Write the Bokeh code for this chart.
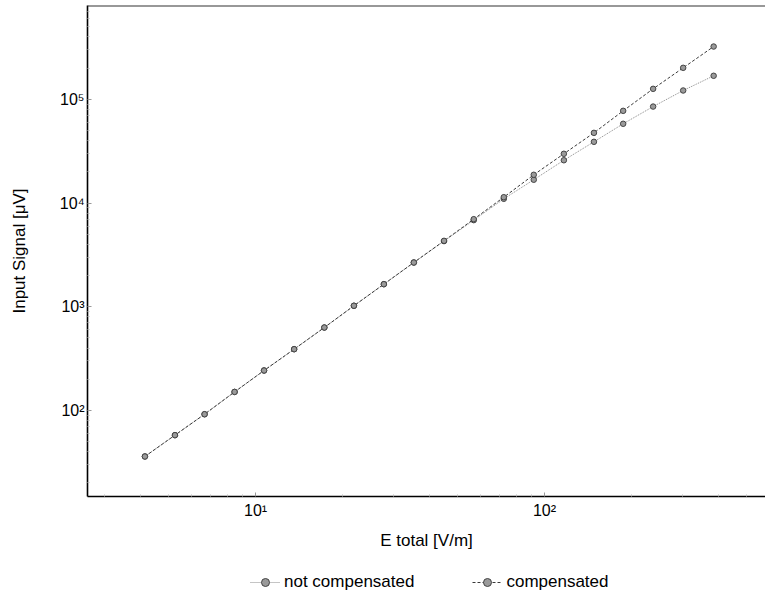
from bokeh.plotting import figure
from bokeh.layouts import column
from bokeh.models import (FixedTicker, CustomJSTickFormatter, Legend, LegendItem, Span,
                          ColumnDataSource, Range1d)
from bokeh.embed import file_html
from bokeh.resources import INLINE

# ---- data ----
e_total = [4.14, 5.26, 6.66, 8.46, 10.7, 13.6, 17.3, 21.9, 27.8, 35.3,
           44.9, 56.9, 72.3, 91.8, 116.7, 148.3, 187.2, 237.7, 302.0, 385.0]
not_compensated = [36.0, 57.8, 92.0, 151.0, 243.0, 390.0, 631.0, 1023.0, 1652.0, 2673.0,
                   4300.0, 6850.0, 11000.0, 16800.0, 25900.0, 39000.0, 58200.0, 85300.0, 121900.0, 169000.0]
compensated = [36.0, 57.8, 92.0, 151.0, 243.0, 390.0, 631.0, 1023.0, 1652.0, 2673.0,
               4325.0, 6998.0, 11400.0, 18750.0, 29900.0, 47600.0, 77600.0, 126500.0, 201700.0, 323600.0]

x_major = [10, 100]
x_minor = [3, 4, 5, 6, 7, 8, 9, 20, 30, 40, 50, 60, 70, 80, 90, 200, 300, 400, 500]
y_major = [100, 1000, 10000, 100000]
y_minor = [20, 30, 40, 50, 60, 70, 80, 90, 200, 300, 400, 500, 600, 700, 800, 900,
           2000, 3000, 4000, 5000, 6000, 7000, 8000, 9000,
           20000, 30000, 40000, 50000, 60000, 70000, 80000, 90000, 200000, 300000, 400000, 500000, 600000, 700000]

x_label = "E total [V/m]"
y_label = "Input Signal [\u03bcV]"
legend_labels = ["not compensated", "compensated"]

FONT = "Liberation Sans"
Y_TOP = 8.05e5

NC_STYLE = dict(line_color="#8a8a8a", line_width=1, line_dash="1 1")
C_STYLE = dict(line_color="#3a3a3a", line_width=1, line_dash="3 2")
MARK = dict(marker="circle", size=5.5, fill_color="#9a9a9a", line_color="#444444", line_width=1)

p = figure(width=765, height=566, x_axis_type="log", y_axis_type="log",
           x_range=(2.62, 582), y_range=(14.8, Y_TOP),
           output_backend="svg", toolbar_location=None,
           min_border_left=87, min_border_right=0, min_border_top=5, min_border_bottom=70)

p.background_fill_color = "white"
p.border_fill_color = "white"
p.outline_line_color = None
p.xgrid.visible = False
p.ygrid.visible = False

fmt = CustomJSTickFormatter(code="""
const sup = {'0':'\u2070','1':'\u00b9','2':'\u00b2','3':'\u00b3','4':'\u2074','5':'\u2075','6':'\u2076','7':'\u2077','8':'\u2078','9':'\u2079','-':'\u207b'};
const e = Math.round(Math.log10(tick));
return '10' + String(e).split('').map(c => sup[c]).join('');
""")

for ax, maj, mnr in ((p.xaxis[0], x_major, x_minor), (p.yaxis[0], y_major, y_minor)):
    ax.ticker = FixedTicker(ticks=maj, minor_ticks=mnr)
    ax.formatter = fmt
    ax.axis_line_color = "black"
    ax.axis_line_width = 1.6
    ax.major_tick_in = 4
    ax.major_tick_out = 0
    ax.minor_tick_in = 2
    ax.minor_tick_out = 0
    ax.major_tick_line_color = "#999999"
    ax.minor_tick_line_color = "#bbbbbb"
    ax.major_label_text_font = FONT
    ax.major_label_text_font_size = "16px"
    ax.major_label_text_color = "black"
    ax.axis_label_text_font = FONT
    ax.axis_label_text_font_size = "17px"
    ax.axis_label_text_font_style = "normal"
    ax.axis_label_text_color = "black"

p.xaxis.axis_label = x_label
p.yaxis.axis_label = y_label
p.xaxis.major_label_standoff = 5
p.xaxis.axis_label_standoff = 9
p.yaxis.major_label_standoff = 3
p.yaxis.axis_label_standoff = 28

src = ColumnDataSource(dict(x=e_total, nc=not_compensated, c=compensated))

p.line("x", "nc", source=src, **NC_STYLE)
p.scatter("x", "nc", source=src, **MARK)
p.line("x", "c", source=src, **C_STYLE)
p.scatter("x", "c", source=src, **MARK)

top = Span(location=Y_TOP, dimension="width", line_color="#333333", line_width=2)
p.add_layout(top)

# ---- legend strip below the plot (same series, kept out of view; only the key shows) ----
q = figure(width=765, height=32, output_backend="svg", toolbar_location=None,
           x_axis_location=None, y_axis_location=None,
           x_range=Range1d(-2, -1), y_range=Range1d(-2, -1),
           min_border_left=87, min_border_right=0, min_border_top=0, min_border_bottom=0)
q.outline_line_color = None
q.xgrid.visible = False
q.ygrid.visible = False
ql1 = q.line("x", "nc", source=src, **NC_STYLE)
qm1 = q.scatter("x", "nc", source=src, **MARK)
ql2 = q.line("x", "c", source=src, **C_STYLE)
qm2 = q.scatter("x", "c", source=src, **MARK)

legend = Legend(items=[LegendItem(label=legend_labels[0], renderers=[ql1, qm1]),
                       LegendItem(label=legend_labels[1], renderers=[ql2, qm2])],
                orientation="horizontal", location=(163, 6),
                border_line_color=None, background_fill_alpha=0,
                label_text_font=FONT, label_text_font_size="17px", label_text_color="black",
                glyph_width=30, glyph_height=20, label_standoff=4, spacing=58,
                padding=0, margin=0)
q.add_layout(legend, "center")

open("out.html", "w").write(file_html(column(p, q), INLINE))
